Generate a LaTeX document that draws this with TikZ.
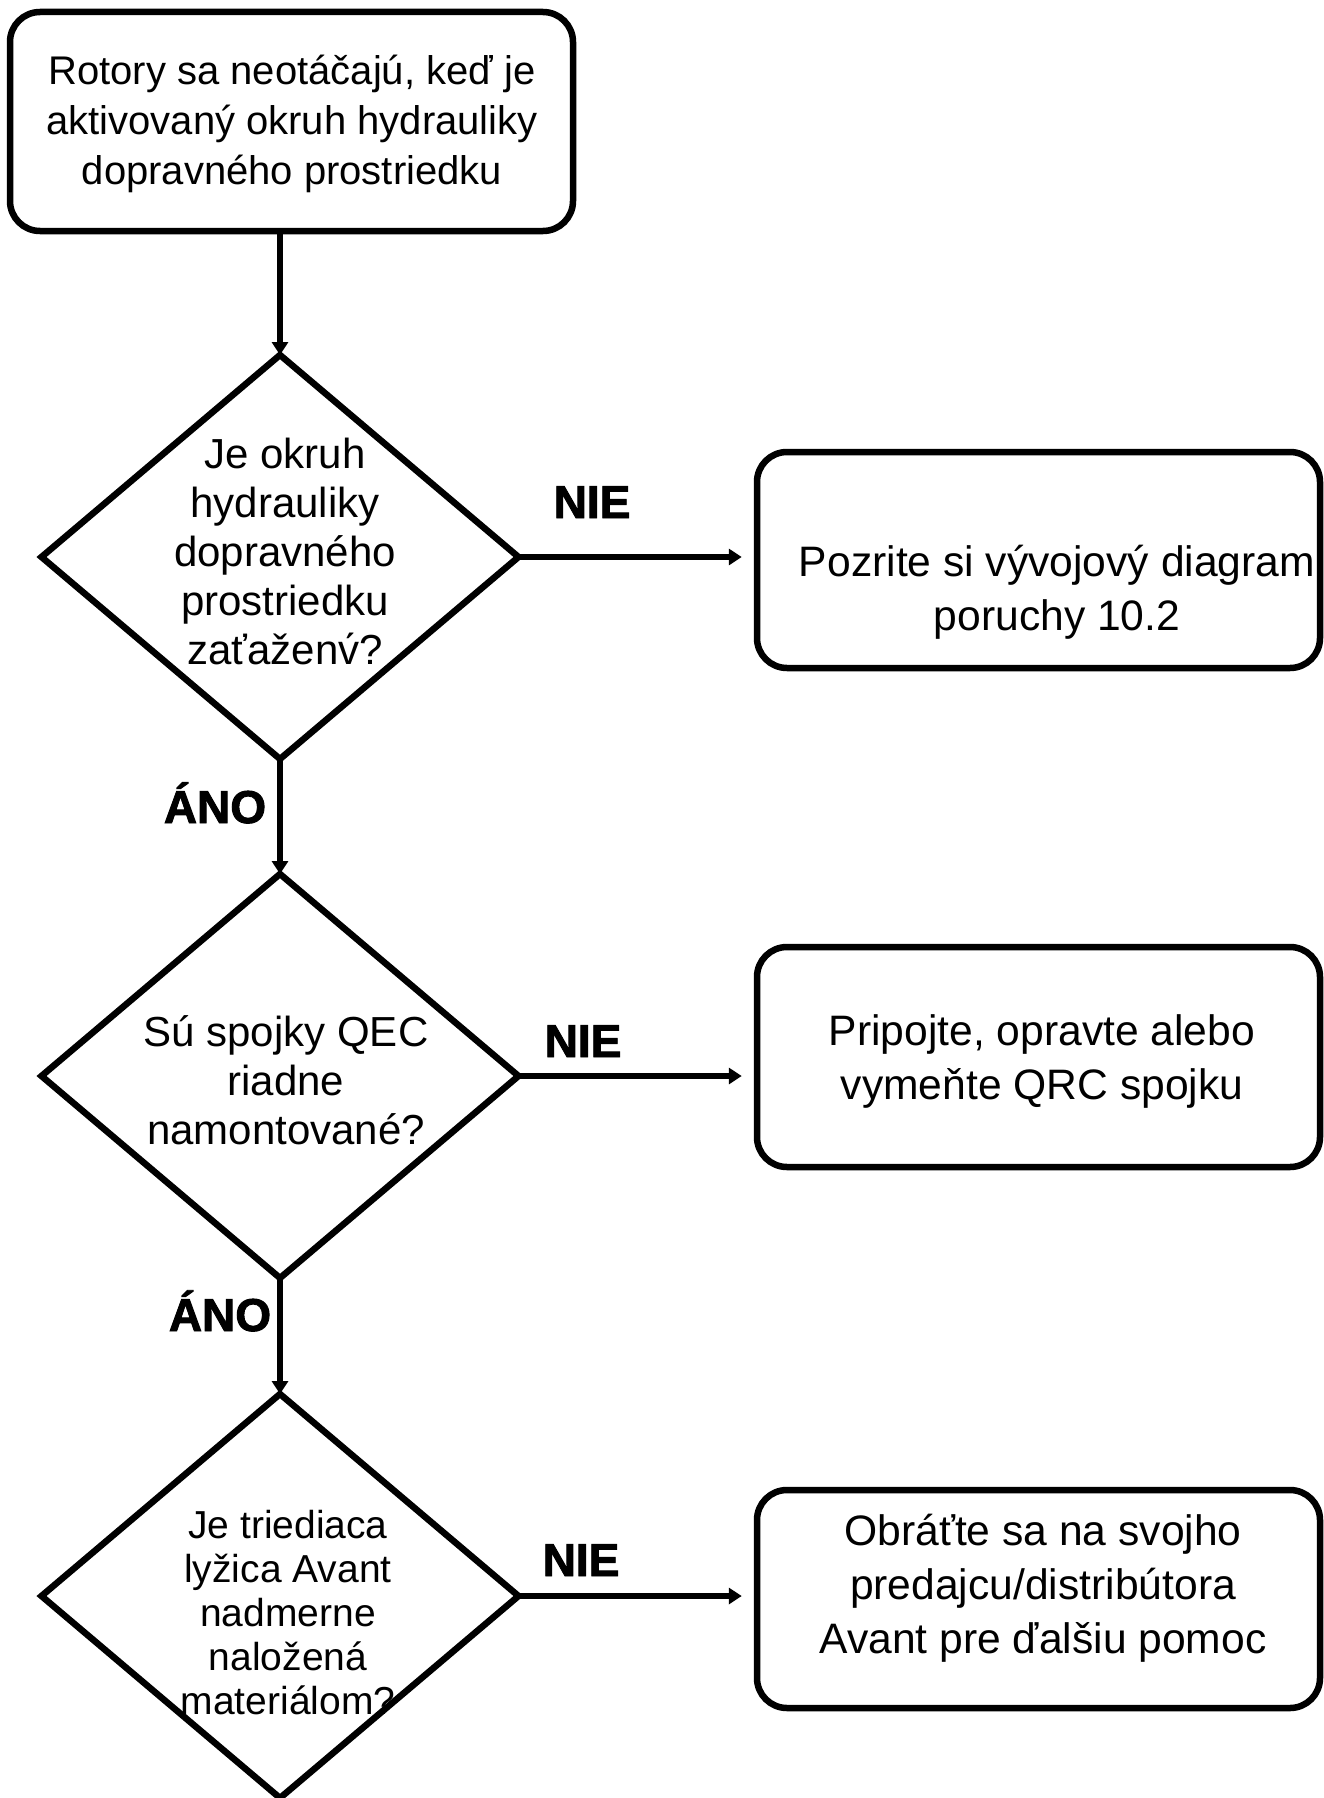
\documentclass[tikz,border=0pt]{standalone}
\usepackage{fontspec}
\setmainfont{Liberation Sans}
\newfontfamily\topfont{Liberation Sans}
\newfontfamily\diafont{Liberation Sans}
\newfontfamily\boxfont{Liberation Sans}
\newfontfamily\lblfont[FakeBold=2]{Liberation Sans Bold}
\usetikzlibrary{shapes.geometric,arrows.meta}
\begin{document}
\begin{tikzpicture}[x=1pt,y=-1pt,
  rbox/.style={draw=black, line width=6.5pt, rounded corners=30pt, minimum width=563pt, inner sep=0pt},
  dia/.style={draw=black, line width=6.5pt, diamond, minimum width=477pt, minimum height=404pt, inner sep=0pt, outer sep=0pt},
  arr/.style={line width=6pt, -{Triangle[length=13pt,width=16pt]}},
  lbl/.style={anchor=base, font=\lblfont\fontsize{46}{50}\selectfont},
  ttxt/.style={align=center, font=\topfont\fontsize{40}{50}\selectfont},
  dtxt/.style={align=center, font=\diafont\fontsize{42}{49}\selectfont},
  dtxts/.style={align=center, font=\diafont\fontsize{39}{44}\selectfont},
  btxt/.style={align=center, font=\boxfont\fontsize{42.6}{54}\selectfont}]
\useasboundingbox (0,0) rectangle (1324,1798);
\fill[white] (0,0) rectangle (1324,1798);

% top box
\node[rbox, minimum height=219pt] (top) at (291.5,121.5) {};
\node[ttxt] (topt) at (292,124) {Rotory sa neotáčajú, keď je\\aktivovaný okruh hydrauliky\\dopravného prostriedku};

% diamonds
\node[dia] (d1) at (280,557) {};
\node[dtxt] (d1t) at (285,551) {Je okruh\\hydrauliky\\dopravného\\prostriedku\\zaťaženv́?};
\node[dia] (d2) at (280,1076) {};
\node[dtxt] (d2t) at (286,1080) {Sú spojky QEC\\riadne\\namontované?};
\node[dia] (d3) at (280,1596) {};
\node[dtxts] (d3t) at (288,1613) {Je triediaca\\lyžica Avant\\nadmerne\\naložená\\materiálom?};

% right boxes
\node[rbox, minimum height=216pt] (b2) at (1038.5,560) {};
\node[btxt] (b2t) at (1057,592) {Pozrite si vývojový diagram\\poruchy 10.2};
\node[rbox, minimum height=220pt] (b3) at (1038.5,1057) {};
\node[btxt] (b3t) at (1042,1061) {Pripojte, opravte alebo\\vymeňte QRC spojku};
\node[rbox, minimum height=218pt] (b4) at (1038.5,1599) {};
\node[btxt] (b4t) at (1043,1588) {Obráťte sa na svojho\\predajcu/distribútora\\Avant pre ďalšiu pomoc};

% connectors
\draw[arr] (top.south -| d1.north) -- (d1.north);
\draw[arr] (d1.south) -- (d2.north);
\draw[arr] (d2.south) -- (d3.north);
\draw[arr, shorten >=12pt] (d1.east) -- (d1.east -| b2.west);
\draw[arr, shorten >=12pt] (d2.east) -- (d2.east -| b3.west);
\draw[arr, shorten >=12pt] (d3.east) -- (d3.east -| b4.west);

% labels
\node[lbl] (n1) at (592,518) {NIE};
\node[lbl] (a1) at (215,823) {ÁNO};
\node[lbl] (n2) at (583,1057) {NIE};
\node[lbl] (a2) at (220,1331) {ÁNO};
\node[lbl] (n3) at (581,1576) {NIE};
\end{tikzpicture}
\end{document}
